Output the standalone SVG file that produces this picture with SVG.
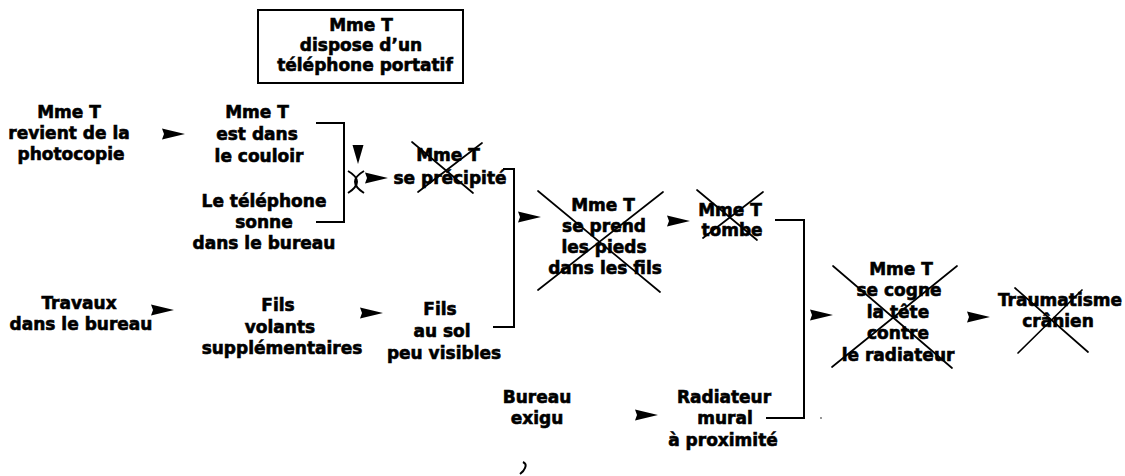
<svg xmlns="http://www.w3.org/2000/svg" xmlns:xlink="http://www.w3.org/1999/xlink" width="1125" height="476" viewBox="0 0 1125 476">
<style>
text{font-family:"DejaVu Sans","Liberation Sans",sans-serif;font-weight:bold;font-size:17px;fill:#000;stroke:#000;stroke-width:0.6;text-anchor:middle}
.br{fill:none;stroke:#000;stroke-width:2}
.x{stroke:#000;stroke-width:1.7;stroke-linecap:round}
.box{fill:none;stroke:#000;stroke-width:2}
</style>
<defs>
<path id="ah" d="M0,-5.5 L23,0 L0,5.5 L2,0 Z" fill="#000"/>
</defs>
<rect width="1125" height="476" fill="#fff"/>

<g id="connectors">
<path class="br" d="M316,123 H344 V222 H316"/>
<path d="M352.5,145 L363.5,145 L358,164 Z" fill="#000"/>
<path class="br" d="M348,171 Q366,181.5 348,193 M364,171 Q346,181.5 364,193" stroke-width="2"/>
<use xlink:href="#ah" transform="translate(365,178)"/>
<use xlink:href="#ah" transform="translate(162,134)"/>
<path class="br" d="M503,169 H514 V327 H493"/>
<use xlink:href="#ah" transform="translate(518,217)"/>
<use xlink:href="#ah" transform="translate(667,221)"/>
<path class="br" d="M775,220 H804 V418 H766"/>
<use xlink:href="#ah" transform="translate(810,315)"/>
<use xlink:href="#ah" transform="translate(967,317)"/>
<use xlink:href="#ah" transform="translate(151,310)"/>
<use xlink:href="#ah" transform="translate(360,313)"/>
<use xlink:href="#ah" transform="translate(635,415)"/>
</g>

<g id="n0">
<rect class="box" x="258" y="10" width="205" height="73"/>
<text x="361" y="31">Mme T</text>
<text x="361" y="51">dispose d’un</text>
<text x="365" y="71">téléphone portatif</text>
</g>

<g id="n1">
<text x="69" y="118">Mme T</text>
<text x="69" y="139">revient de la</text>
<text x="71" y="160">photocopie</text>
</g>

<g id="n2">
<text x="257" y="118">Mme T</text>
<text x="257" y="140">est dans</text>
<text x="259" y="162">le couloir</text>
</g>

<g id="n3">
<text x="264" y="207">Le téléphone</text>
<text x="264" y="228">sonne</text>
<text x="264" y="249">dans le bureau</text>
</g>

<g id="n4">
<text x="448" y="161">Mme T</text>
<text x="450" y="184">se précipité</text>
<line class="x" x1="412" y1="142" x2="473" y2="193"/>
<line class="x" x1="482" y1="143" x2="418" y2="192"/>
</g>

<g id="n5">
<text x="603" y="211">Mme T</text>
<text x="604" y="232">se prend</text>
<text x="604" y="253">les pieds</text>
<text x="605" y="274">dans les fils</text>
<line class="x" x1="538" y1="191" x2="660" y2="292"/>
<line class="x" x1="663" y1="192" x2="538" y2="290"/>
</g>

<g id="n6">
<text x="730" y="216">Mme T</text>
<text x="732" y="236">tombe</text>
<line class="x" x1="697" y1="190" x2="757" y2="240"/>
<line class="x" x1="763" y1="192" x2="703" y2="238"/>
</g>

<g id="n7">
<text x="901" y="275">Mme T</text>
<text x="899" y="296">se cogne</text>
<text x="898" y="318">la tête</text>
<text x="898" y="339">contre</text>
<text x="898" y="361">le radiateur</text>
<line class="x" x1="833" y1="266" x2="952" y2="368"/>
<line class="x" x1="957" y1="266" x2="832" y2="367"/>
</g>

<g id="n8">
<text x="1060" y="306">Traumatisme</text>
<text x="1058" y="327">crânien</text>
<line class="x" x1="1015" y1="288" x2="1088" y2="352"/>
<line class="x" x1="1082" y1="290" x2="1018" y2="353"/>
</g>

<g id="n9">
<text x="79" y="309">Travaux</text>
<text x="81" y="330">dans le bureau</text>
</g>

<g id="n10">
<text x="278" y="311">Fils</text>
<text x="280" y="333">volants</text>
<text x="282" y="354">supplémentaires</text>
</g>

<g id="n11">
<text x="440" y="315">Fils</text>
<text x="442" y="337">au sol</text>
<text x="444" y="359">peu visibles</text>
</g>

<g id="n12">
<text x="537" y="403">Bureau</text>
<text x="537" y="424">exigu</text>
</g>

<g id="n13">
<text x="724" y="403">Radiateur</text>
<text x="725" y="424">mural</text>
<text x="723" y="446">à proximité</text>
</g>

<path d="M523,462 q4,2 2,6 q-1,3 -5,6" fill="none" stroke="#000" stroke-width="2"/>
<circle cx="821" cy="418" r="0.9" fill="#666"/>
</svg>
